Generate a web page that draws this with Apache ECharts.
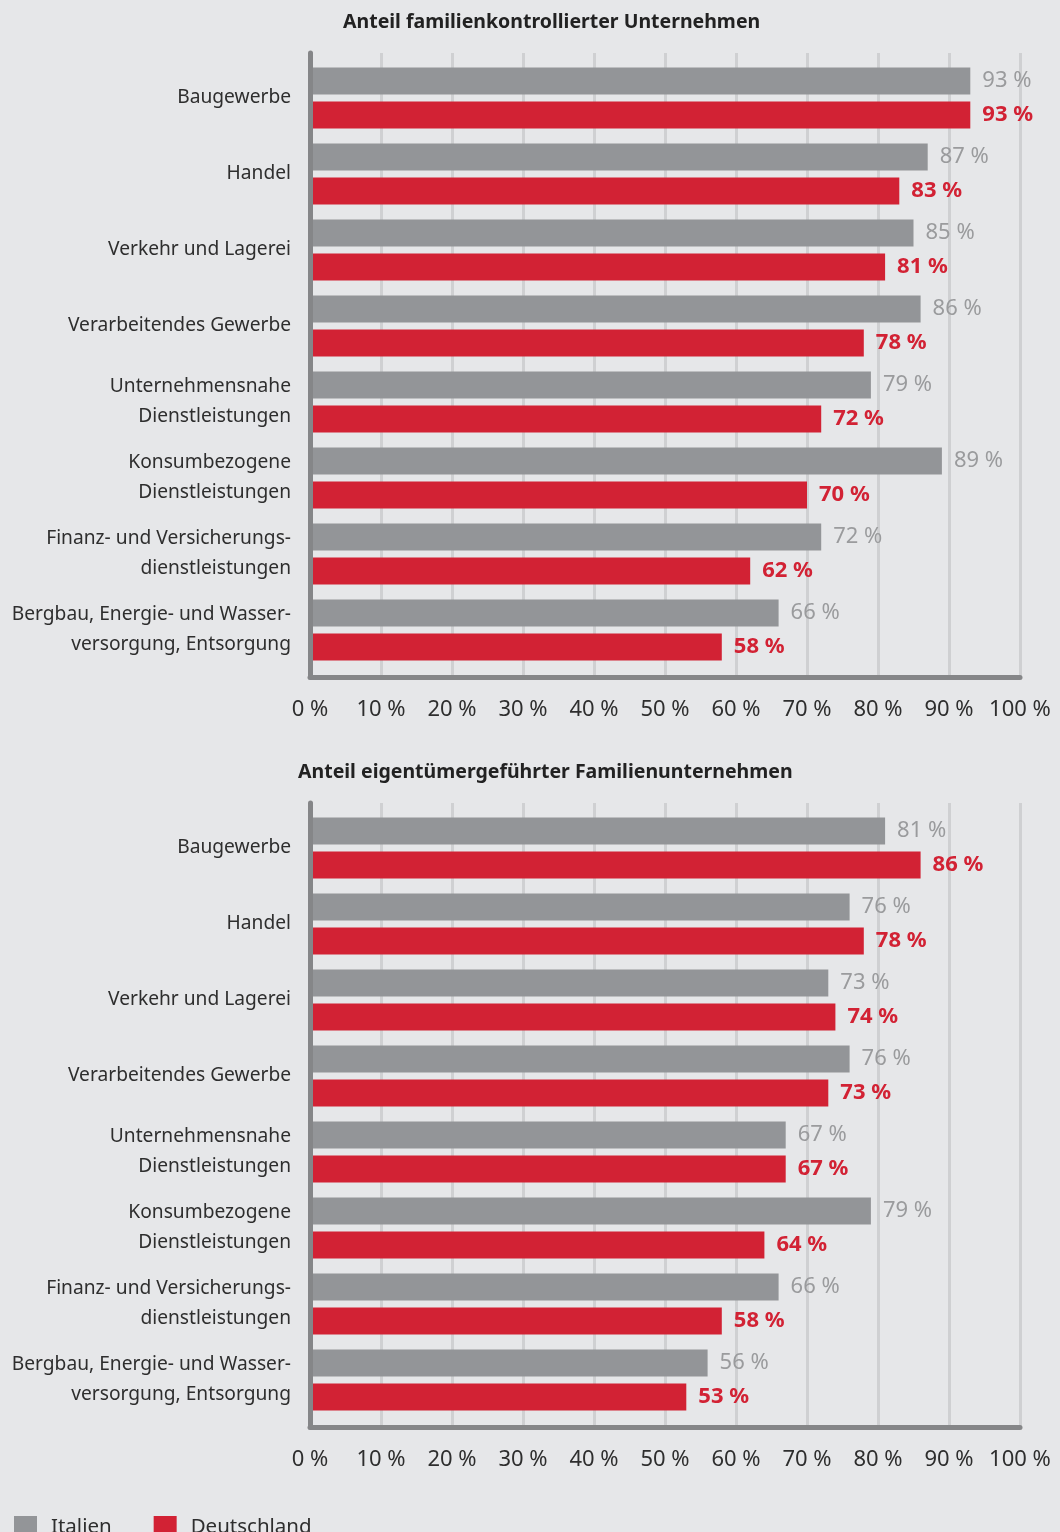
<!DOCTYPE html>
<html>
<head>
<meta charset="utf-8">
<script src="https://cdn.jsdelivr.net/npm/echarts@6/dist/echarts.min.js"></script>
<style>
  html, body { margin: 0; padding: 0; background: #e6e7e9; }
  #main { width: 1060px; height: 1532px; }
</style>
</head>
<body>
<div id="main"></div>
<script>
// Kategorien (von oben nach unten)
var branchen = [
  'Baugewerbe',
  'Handel',
  'Verkehr und Lagerei',
  'Verarbeitendes Gewerbe',
  'Unternehmensnahe\nDienstleistungen',
  'Konsumbezogene\nDienstleistungen',
  'Finanz- und Versicherungs-\ndienstleistungen',
  'Bergbau, Energie- und Wasser-\nversorgung, Entsorgung'
];

// Anteil familienkontrollierter Unternehmen
var kontrolliertItalien = [93, 87, 85, 86, 79, 89, 72, 66];
var kontrolliertDeutschland = [93, 83, 81, 78, 72, 70, 62, 58];

// Anteil eigentümergeführter Familienunternehmen
var gefuehrtItalien = [81, 76, 73, 76, 67, 79, 66, 56];
var gefuehrtDeutschland = [86, 78, 74, 73, 67, 64, 58, 53];

var titel = ['Anteil familienkontrollierter Unternehmen', 'Anteil eigentümergeführter Familienunternehmen'];

var grau = '#939598';
var rot = '#d22234';
var schrift = "'Noto Sans', sans-serif";

var chartDom = document.getElementById('main');
var myChart = echarts.init(chartDom);

var versatz = 750; // Abstand zwischen oberem und unterem Diagramm

function balken(name, werte, idx, farbe, labelFarbe, fett) {
  return {
    name: name,
    type: 'bar',
    xAxisIndex: idx,
    yAxisIndex: idx,
    data: werte,
    barWidth: 27,
    barGap: '26%',
    itemStyle: { color: farbe },
    label: {
      show: true,
      position: 'right',
      distance: 12,
      formatter: '{c} %',
      color: labelFarbe,
      fontSize: 22,
      fontWeight: fett ? 'bold' : 'normal',
      fontFamily: schrift
    },
    emphasis: { disabled: true }
  };
}

var grids = [];
var xAxes = [];
var yAxes = [];
for (var i = 0; i < 2; i++) {
  var off = i * versatz;
  // Balken-Raster
  grids.push({ left: 310, width: 710, top: 60 + off, height: 608 });
  // Raster für Achsenlinien und Gitter
  grids.push({ left: 310, width: 710, top: 53 + off, height: 624 });
}
for (var g = 0; g < 2; g++) {
  // Balken-Achsen
  xAxes.push({
    type: 'value', gridIndex: g * 2, min: 0, max: 100, show: false
  });
  yAxes.push({
    type: 'category', gridIndex: g * 2, data: branchen, inverse: true,
    axisLine: { show: false }, axisTick: { show: false },
    axisLabel: {
      margin: 19, fontSize: 19.2, lineHeight: 30, color: '#2e2e2e', fontFamily: schrift
    }
  });
  // Deko-Achsen
  xAxes.push({
    type: 'value', gridIndex: g * 2 + 1, min: 0, max: 100, interval: 10,
    axisLine: { show: true, lineStyle: { color: '#858688', width: 5 } },
    axisTick: { show: false },
    splitLine: { show: true, lineStyle: { color: '#cfd0d2', width: 3 } },
    axisLabel: {
      formatter: '{value} %', margin: 22, fontSize: 22, color: '#2e2e2e', fontFamily: schrift
    }
  });
  yAxes.push({
    type: 'value', gridIndex: g * 2 + 1, min: 0, max: 1, z: 5,
    axisLine: { show: true, lineStyle: { color: '#858688', width: 5 } },
    axisTick: { show: false }, axisLabel: { show: false },
    splitLine: { show: false }
  });
}

var option = {
  backgroundColor: '#e6e7e9',
  animation: false,
  title: [
    {
      text: titel[0], left: 338, top: 7,
      textStyle: { fontSize: 19.5, fontWeight: 'bold', color: '#222', fontFamily: schrift }
    },
    {
      text: titel[1], left: 293, top: 7 + versatz,
      textStyle: { fontSize: 19.5, fontWeight: 'bold', color: '#222', fontFamily: schrift }
    }
  ],
  legend: {
    data: ['Italien', 'Deutschland'],
    left: 9, top: 1511,
    icon: 'rect',
    itemWidth: 23, itemHeight: 23, itemGap: 42,
    textStyle: { fontSize: 20.5, color: '#2e2e2e', fontFamily: schrift, padding: [0, 0, 0, 9] }
  },
  grid: grids,
  xAxis: xAxes,
  yAxis: yAxes,
  series: [
    balken('Italien', kontrolliertItalien, 0, grau, '#9a9b9d', false),
    balken('Deutschland', kontrolliertDeutschland, 0, rot, rot, true),
    balken('Italien', gefuehrtItalien, 2, grau, '#9a9b9d', false),
    balken('Deutschland', gefuehrtDeutschland, 2, rot, rot, true)
  ]
};

myChart.setOption(option);
</script>
</body>
</html>
